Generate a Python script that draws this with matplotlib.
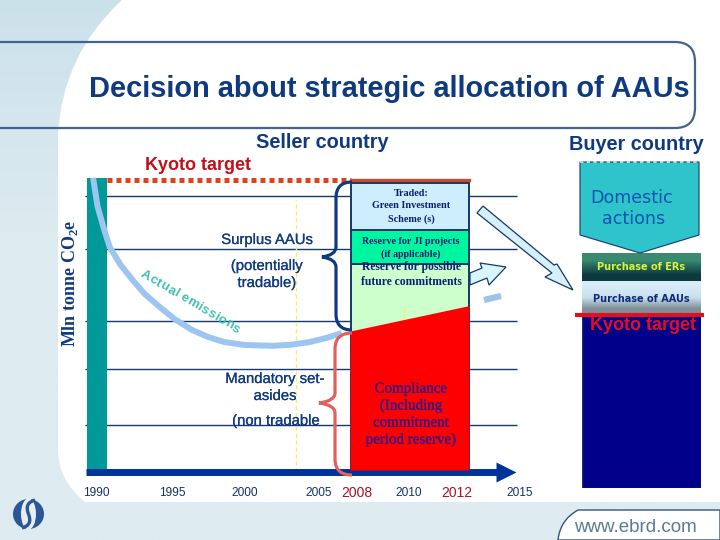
import numpy as np
import matplotlib
matplotlib.use("Agg")
from matplotlib import pyplot as plt
from matplotlib.path import Path
from matplotlib.patches import PathPatch, Polygon, Ellipse
import matplotlib.patheffects as pe

# x axis of the slide is hand placed, so the year scale is piecewise
year_knots = [1985, 1990, 1995, 2000, 2005, 2008, 2010, 2012, 2015, 2020]
year_place = [20, 96, 172, 245, 319, 358, 410, 458, 521, 600]
tick_years = [1990, 1995, 2000, 2005, 2008, 2010, 2012, 2015]

# emissions curve (y in arbitrary units, target = 100)
curve_years = [1989.8, 1990.1, 1990.5, 1990.9, 1991.6, 1992.4, 1993.2, 1994.2, 1995.2, 1996.4,
               1997.5, 1998.6, 2000.0, 2001.9, 2003.2, 2004.4, 2005.7, 2006.8]
curve_level = [100.7, 90.8, 83.5, 77.0, 71.0, 65.8, 61.0, 56.5, 52.3, 48.6,
               46.2, 44.5, 43.5, 43.2, 43.6, 44.5, 46.0, 47.6]

grid_levels = [94.5, 76.4, 51.7, 35.3, 16.1]
kyoto_level = 100
bar_top = 100.6
bar_start = 1989.41
bar_end = 1990.72
seller_start = 2007.54
seller_end = 2012.57
compliance_left = 47.9
compliance_right = 56.5
reserve_top = 71.2
ji_top = 82.9
traded_top = 99.0

buyer_base = 59.6
buyer_aau = 11.0
buyer_er = 9.9

navy = "#0f3a80"
W, H = 720, 540


def px_axes(z):
    a = fig.add_axes([0, 0, 1, 1], zorder=z)
    a.set_xlim(0, W)
    a.set_ylim(H, 0)
    a.axis("off")
    a.patch.set_alpha(0)
    return a


def px_rect(x0, ytop, x1, ybot):
    return [x0 / W, 1 - ybot / H, (x1 - x0) / W, (ybot - ytop) / H]


def brace(a, x, tip, ytop, ymid, ybot, xend, color):
    verts = [(xend, ytop), (x, ytop), (x, ytop + 16), (x, ymid - 10), (x, ymid - 2), (tip, ymid),
             (x, ymid + 2), (x, ymid + 10), (x, ybot - 16), (x, ybot), (xend, ybot)]
    codes = [Path.MOVETO, Path.CURVE3, Path.CURVE3, Path.LINETO, Path.CURVE3, Path.CURVE3,
             Path.CURVE3, Path.CURVE3, Path.LINETO, Path.CURVE3, Path.CURVE3]
    a.add_patch(PathPatch(Path(verts, codes), fc="none", ec=color, lw=2.3))


def thick(color, w=0.15):
    return [pe.withStroke(linewidth=w, foreground=color)]


fig = plt.figure(figsize=(7.2, 5.4), dpi=100)

############# Background #############
bg = px_axes(1)
grad = np.linspace(0, 1, 256).reshape(-1, 1, 1)
top_c = np.array([0xcb, 0xe1, 0xea]) / 255
low_c = np.array([0xde, 0xeb, 0xf1]) / 255
bg.imshow(np.clip(top_c + (low_c - top_c) * np.clip(grad * 2.2, 0, 1), 0, 1), extent=(0, W, H, 0), aspect="auto")
bg.set_xlim(0, W)
bg.set_ylim(H, 0)
white = Path([(122, 0), (62, 55), (58, 135), (58, 450), (58, 480), (85, 502), (720, 502), (720, 0), (122, 0)],
             [Path.MOVETO, Path.CURVE3, Path.CURVE3, Path.LINETO, Path.CURVE3, Path.CURVE3,
              Path.LINETO, Path.LINETO, Path.CLOSEPOLY])
bg.add_patch(PathPatch(white, fc="white", ec="none"))
title_box = Path([(0, 42), (675, 42), (695, 42), (695, 62), (695, 108), (695, 128), (675, 128), (0, 128)],
                 [Path.MOVETO, Path.LINETO, Path.CURVE3, Path.CURVE3, Path.LINETO, Path.CURVE3, Path.CURVE3, Path.LINETO])
bg.add_patch(PathPatch(title_box, fc="none", ec="#44628f", lw=1.6))
tab = Path([(558, 540), (560, 520), (578, 510), (720, 510), (720, 540), (558, 540)],
           [Path.MOVETO, Path.CURVE3, Path.CURVE3, Path.LINETO, Path.LINETO, Path.CLOSEPOLY])
bg.add_patch(PathPatch(tab, fc="white", ec="#34557f", lw=1.0))
bg.text(635, 527, "www.ebrd.com", color="#5a7a95", fontsize=13.5, family="Liberation Sans", ha="center", va="center")

# logo: blue disc, white band, blue S through it
bg.add_patch(Ellipse((28.5, 514), 31, 30, fc="#2b5797", ec="none"))
bg.add_patch(Ellipse((28.5, 514), 15, 31, fc="#e4eef3", ec="none"))
s = Path([(35, 500), (24, 503), (28.5, 514), (33, 525), (22, 528)],
         [Path.MOVETO, Path.CURVE3, Path.CURVE3, Path.CURVE3, Path.CURVE3])
bg.add_patch(PathPatch(s, fc="none", ec="#2b5797", lw=2.4))

bg.text(389.5, 89, "Decision about strategic allocation of AAUs", color="#0f3a80", fontsize=20.9,
        family="Liberation Sans", ha="center", va="center", fontweight="bold")

############# Seller chart #############
ax = fig.add_axes(px_rect(84, 170, 526, 472), zorder=2)
ax.patch.set_alpha(0)
ax.set_xscale("function", functions=(lambda v: np.interp(v, year_knots, year_place),
                                     lambda v: np.interp(v, year_place, year_knots)))
ax.set_xlim(1989.2, 2015.4)
ax.set_ylim(0, 103.4)
for s in ax.spines.values():
    s.set_visible(False)
ax.set_yticks([])
ax.set_xticks(tick_years)
ax.set_xticks([], minor=True)
ax.set_xticklabels([str(y) for y in tick_years], family="Liberation Sans", fontsize=8.6, color="#14306e", va="center")
ax.tick_params(axis="x", length=0, pad=15)
for lab, y in zip(ax.get_xticklabels(), tick_years):
    if y in (2008, 2012):
        lab.set_color("#b01020")
        lab.set_fontsize(10)

ax.hlines(grid_levels, 1989.25, 2014.85, color="#15386b", lw=1.0, zorder=1)
ax.axvline(2003.5, 0.0, 0.9, color="#f0f070", lw=1.0, ls=(0, (3, 2)), zorder=2)
ax.bar(bar_start, bar_top, width=bar_end - bar_start, align="edge", color="#009999", zorder=3)
ax.plot(curve_years, curve_level, color="#9cc6f0", lw=4.3, zorder=4, solid_capstyle="butt", solid_joinstyle="round")

# target line, dotted up to the seller stack and solid over it
ax.plot([bar_end, seller_start], [kyoto_level, kyoto_level], color="#e0401a", lw=3.6, ls=(0, (1, 0.8)), zorder=4)
ax.plot([seller_start, seller_end], [kyoto_level, kyoto_level], color="#c84a30", lw=2.4, zorder=4)

# seller stack
w = seller_end - seller_start
ax.bar(seller_start, ji_top - reserve_top, bottom=reserve_top, width=w, align="edge", fc="#00f5a0", ec="#15386b", lw=1.4, zorder=7)
ax.bar(seller_start, traded_top - ji_top, bottom=ji_top, width=w, align="edge", fc="#cdeefc", ec="#15386b", lw=1.4, zorder=7)
ax.bar(seller_start, reserve_top, width=w, align="edge", fc="#ccffcc", ec="#15386b", lw=1.4, zorder=5)
ax.fill([seller_start, seller_end, seller_end, seller_start], [compliance_left, compliance_right, 0.7, 0.7], color="#ff0000", zorder=8)
ax.axvline(2009.8, 0.3, 0.55, color="#f0f070", lw=1.0, ls=(0, (3, 2)), zorder=6)

# time axis with its head
ax.plot([1989.3, 2014.0], [0, 0], color="#003399", lw=5, clip_on=False, zorder=6, solid_capstyle="butt")
ax.plot([2014.35], [0], marker=">", ms=14, color="#003399", mec="none", clip_on=False, zorder=6)

############# Buyer stack #############
bx = fig.add_axes(px_rect(582, 253, 701, 488), zorder=2)
bx.axis("off")
bx.bar(0, buyer_base, width=1, align="edge", fc="#00008b", ec="#15386b", lw=1)
bx.imshow(np.array([[[0x3a, 0x8a, 0x70]], [[0x0d, 0x3a, 0x40]]]) / 255, aspect="auto", interpolation="bilinear",
          extent=(0, 1, buyer_base + buyer_aau, buyer_base + buyer_aau + buyer_er))
bx.imshow(np.array([[[0xd8, 0xec, 0xf8]], [[0xc8, 0xe0, 0xee]], [[0x80, 0x90, 0x98]]]) / 255, aspect="auto", interpolation="bilinear",
          extent=(0, 1, buyer_base, buyer_base + buyer_aau))
bx.set_xlim(0, 1)
bx.set_ylim(0, buyer_base + buyer_aau + buyer_er)

############# Labels and shapes on top #############
ov = px_axes(3)
serif = "Liberation Serif"
sans = "Liberation Sans"
brace(ov, 336, 322, 182, 257, 330, 352, navy)
brace(ov, 335, 319, 333, 403, 475, 352, "#e06060")

ov.add_patch(Polygon([(477, 213), (483, 206), (554, 265), (557, 264), (573, 290), (545, 277), (552, 273)],
                     fc="#d5f0fb", ec="#15386b", lw=0.9))
ov.add_patch(Polygon([(470, 273), (482, 268), (480, 263), (506, 267), (489, 285), (487, 278), (470, 285)],
                     fc="#d8f6fb", ec="#15386b", lw=0.9))
ov.plot([484, 501], [300, 296], color="#9cc4e8", lw=4.5, solid_capstyle="butt")

ov.add_patch(Polygon([(580, 162), (699, 162), (699, 235), (640, 253), (580, 235)], fc="#2fc4cc", ec="#15386b", lw=0.8))
ov.plot([580, 699], [162, 162], color="#d0f0f0", lw=1.2, ls=(0, (2, 2)))
ov.plot([575, 704], [315, 315], color="#e01020", lw=3.0, solid_capstyle="butt")

ov.text(322, 142, "Seller country", color=navy, fontsize=14.3, family=sans, fontweight="bold", ha="center", va="center")
ov.text(636, 144, "Buyer country", color=navy, fontsize=14.3, family=sans, fontweight="bold", ha="center", va="center")
ov.text(198, 166, "Kyoto target", color="#c0101a", fontsize=13, family=sans, fontweight="bold", ha="center", va="center")
ov.text(70, 283, "Mln tonne CO$_{\\mathregular{2}}$e", color=navy, fontsize=13, family=serif, fontweight="bold",
        rotation=90, ha="center", va="center")

for x, y, t in zip((267, 267, 267, 275, 275, 276),
                   (240, 266, 283, 379, 396, 421),
                   ("Surplus AAUs", "(potentially", "tradable)", "Mandatory set-", "asides", "(non tradable")):
    ov.text(x, y, t, color=navy, fontsize=10.7, family=sans, ha="center", va="center", path_effects=thick(navy))

for y, t in zip((194, 206, 219), ("Traded:", "Green Investment", "Scheme (s)")):
    ov.text(411, y, t, color="#0a1f70", fontsize=7.3, family=serif, fontweight="bold", ha="center", va="center")
for y, t in zip((242, 254), ("Reserve for JI projects", "(if applicable)")):
    ov.text(411, y, t, color="#0a1f70", fontsize=7.2, family=serif, fontweight="bold", ha="center", va="center")
# top line of this text is cut by the JI box in the original
t1 = ov.text(411, 267, "Reserve for possible", color="#0a1f70", fontsize=8.4, family=serif, fontweight="bold", ha="center", va="center")
t1.set_clip_path(Polygon([(352, 265), (470, 265), (470, 290), (352, 290)], transform=ov.transData))
ov.text(411, 282, "future commitments", color="#0a1f70", fontsize=8.4, family=serif, fontweight="bold", ha="center", va="center")
for y, t in zip((389, 406, 423, 440), ("Compliance", "(Including", "commitment", "period reserve)")):
    ov.text(411, y, t, color="#331a88", fontsize=10.8, family=serif, ha="center", va="center", path_effects=thick("#331a88"))

ov.text(632, 198, "Domestic", color="#0a56b0", fontsize=12.6, family="DejaVu Sans", ha="center", va="center")
ov.text(634, 219, "actions", color="#0a56b0", fontsize=12.6, family="DejaVu Sans", ha="center", va="center")
ov.text(641, 267, "Purchase of ERs", color="#d8f53c", fontsize=7, family="DejaVu Sans", fontweight="bold", ha="center", va="center")
ov.text(641, 299, "Purchase of AAUs", color="#0f2a78", fontsize=7, family="DejaVu Sans", fontweight="bold", ha="center", va="center")
ov.text(643, 325, "Kyoto target", color="#e01020", fontsize=13, family=sans, fontweight="bold", ha="center", va="center")

# rotated letters following the emissions curve, spaced by their own widths
label = "Actual emissions"
rend = fig.canvas.get_renderer()
probe = ov.text(0, 0, "", fontsize=9.4, family=sans, fontweight="bold")
adv = []
for ch in label:
    adv.append(rend.get_text_width_height_descent(ch, probe.get_fontproperties(), False)[0] if ch != " " else 3.0)
probe.remove()
adv = np.array(adv)
pos = (np.cumsum(adv) - adv / 2) / adv.sum()
for ch, f in zip(label, pos):
    ov.text(141 + 98 * f, 273 + 58 * f, ch, color="#3fbfb0", fontsize=9.4, family=sans, fontweight="bold", rotation=-30,
            rotation_mode="anchor", ha="center", va="center")

plt.savefig("out.png", dpi=100)
